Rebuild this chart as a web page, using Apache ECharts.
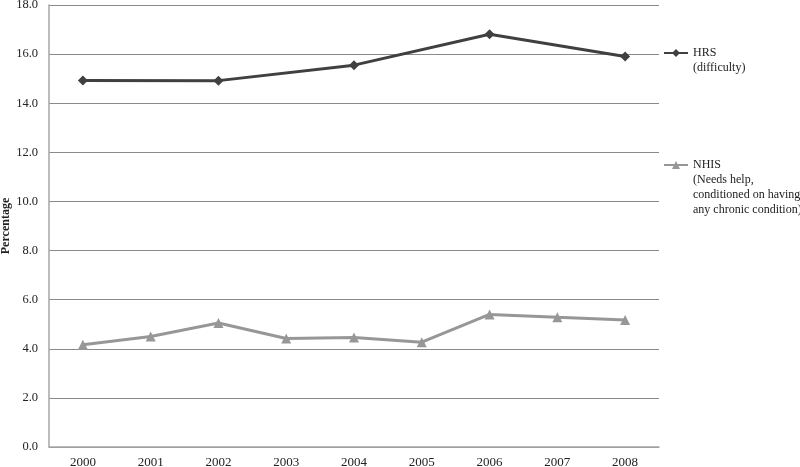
<!DOCTYPE html>
<html><head><meta charset="utf-8">
<script src="https://cdn.jsdelivr.net/npm/echarts@6/dist/echarts.min.js"></script>
<style>html,body{margin:0;padding:0;background:#fff}#c{width:800px;height:467px}</style>
</head><body><div id="c"></div>
<script>
const years = ['2000','2001','2002','2003','2004','2005','2006','2007','2008'];
const hrs = [14.93, null, 14.92, null, 15.55, null, 16.81, null, 15.9];
const nhis = [4.16, 4.5, 5.05, 4.42, 4.46, 4.27, 5.4, 5.28, 5.17];
const yTicks = {min: 0, max: 18, interval: 2};
const hrsLabel = ['HRS', '(difficulty)'];
const nhisLabel = ['NHIS', '(Needs help,', 'conditioned on having', 'any chronic condition)'];

const font = 'Liberation Serif';
function legendText(lines){
  const pad = Array(lines.length - 1).fill('');
  return pad.concat(lines).join('\n');
}
const chart = echarts.init(document.getElementById('c'), null, {renderer:'canvas'});
chart.setOption({
  animation: false,
  backgroundColor: '#fff',
  textStyle: {fontFamily: font},
  grid: {left: 49, right: 141, top: 5, bottom: 20, containLabel: false, outerBoundsMode: 'none'},
  legend: [
    {data: ['HRS'], left: 663, top: 30.5, padding: 0, itemWidth: 24, itemHeight: 10,
     formatter: () => legendText(hrsLabel),
     textStyle: {fontFamily: font, fontSize: 12, lineHeight: 15, color: '#222'}},
    {data: ['NHIS'], left: 663, top: 112.5, padding: 0, itemWidth: 24, itemHeight: 10,
     formatter: () => legendText(nhisLabel),
     textStyle: {fontFamily: font, fontSize: 12, lineHeight: 15, color: '#222'}}
  ],
  xAxis: {
    type: 'category', data: years, boundaryGap: true,
    axisLine: {show: true, lineStyle: {color: '#a6a6a6', width: 1.5}},
    axisTick: {show: false},
    axisLabel: {fontFamily: font, fontSize: 13, color: '#222', margin: 9},
    splitLine: {show: false}
  },
  yAxis: {
    type: 'value', min: yTicks.min, max: yTicks.max, interval: yTicks.interval,
    name: 'Percentage', nameLocation: 'middle', nameGap: 37, nameRotate: 90,
    nameMoveOverlap: false,
    nameTextStyle: {fontFamily: font, fontSize: 12, fontWeight: 'bold', color: '#222'},
    axisLine: {show: true, lineStyle: {color: '#a6a6a6', width: 1.5}},
    axisTick: {show: false},
    axisLabel: {fontFamily: font, fontSize: 12.5, color: '#222', margin: 11,
      formatter: v => v.toFixed(1)},
    splitLine: {show: true, lineStyle: {color: '#8a8a8a', width: 1}}
  },
  series: [
    {name: 'HRS', type: 'line', data: hrs, connectNulls: true,
     symbol: 'diamond', symbolSize: 10, color: '#404040',
     lineStyle: {width: 3, color: '#404040'}, itemStyle: {color: '#404040'}},
    {name: 'NHIS', type: 'line', data: nhis,
     symbol: 'triangle', symbolSize: 10, color: '#979797',
     lineStyle: {width: 3, color: '#979797'}, itemStyle: {color: '#979797'}}
  ]
});
</script></body></html>
